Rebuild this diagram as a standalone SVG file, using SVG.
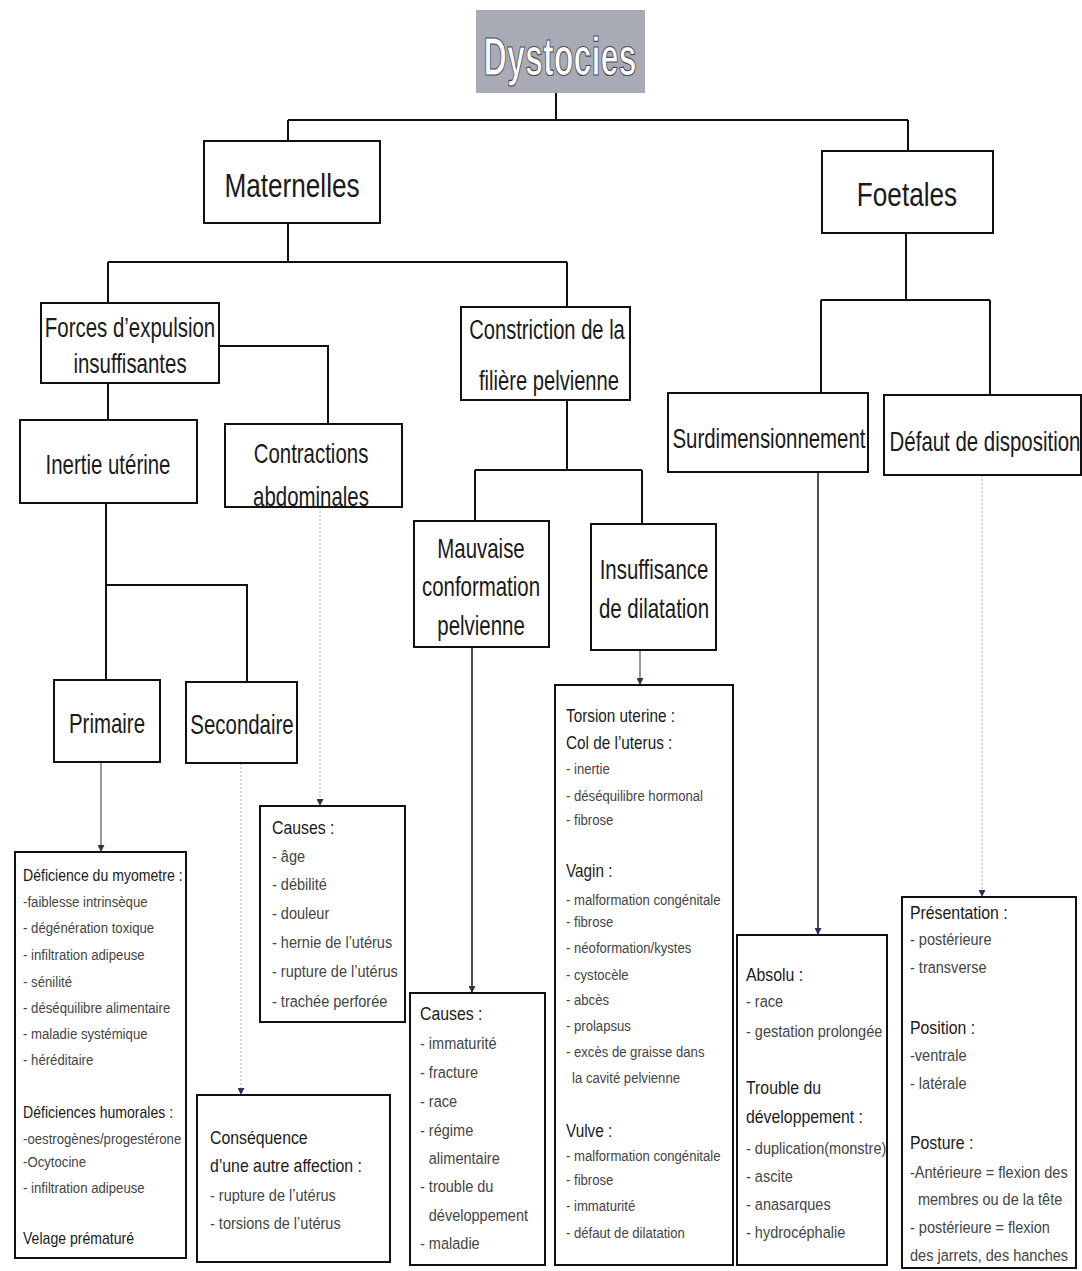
<svg xmlns="http://www.w3.org/2000/svg" width="1082" height="1271" viewBox="0 0 1082 1271">
<defs>
<style>
.bx{fill:#fff;stroke:#111;stroke-width:2}
.ln{fill:none;stroke:#111;stroke-width:2}
.thin{fill:none;stroke:#555;stroke-width:1.2}
.dot{fill:none;stroke:#bbb;stroke-width:1.2;stroke-dasharray:2 2}
.sol{fill:none;stroke:#222;stroke-width:1.6}
.lbl{font-family:"Liberation Sans",Arial,sans-serif;font-size:28px;fill:#1a1a1a;text-anchor:middle}
.big{font-size:34px}
.sm text{font-family:"Liberation Sans",Arial,sans-serif;font-size:15px;fill:#444}
.sm text.hd{font-size:16px;fill:#1a1a1a}
.sm.lg text{font-size:16.5px}
.sm.lg text.hd{font-size:18px}
.sm.md text.hd{font-size:17.5px}
</style>
<marker id="ah" viewBox="0 0 10 10" refX="10" refY="5" markerWidth="9" markerHeight="7" markerUnits="userSpaceOnUse" orient="auto">
<path d="M0,0 L10,5 L0,10 z" fill="#2c3352"/>
</marker>
</defs>
<rect width="1082" height="1271" fill="#fff"/>

<g id="connectors">
<path class="ln" d="M556,93 V120 M288,120 H908 M288,120 V141 M908,120 V151"/>
<path class="ln" d="M288,223 V262 M108,262 H567 M108,262 V303 M567,262 V307"/>
<path class="ln" d="M108,383 V420 M219,346 H328 V424"/>
<path class="ln" d="M106,503 V585 H247 V682 M106,585 V680"/>
<path class="ln" d="M567,400 V470 M475,470 H642 M475,470 V521 M642,470 V524"/>
<path class="ln" d="M906,233 V300 M821,300 H990 M821,300 V393 M990,300 V395"/>
<path class="thin" d="M101,762 V852" marker-end="url(#ah)"/>
<path class="dot" d="M241,763 V1095" marker-end="url(#ah)"/>
<path class="dot" d="M320,507 V806" marker-end="url(#ah)"/>
<path class="sol" d="M472,647 V993" marker-end="url(#ah)"/>
<path class="thin" d="M640,650 V685" marker-end="url(#ah)"/>
<path class="sol" d="M818,472 V935" marker-end="url(#ah)"/>
<path class="dot" d="M982,475 V897" marker-end="url(#ah)"/>
</g>

<g id="dystocies">
<rect x="476" y="10" width="169" height="83" fill="#a8aab5"/>
<text transform="translate(560,75) scale(0.6,1)" font-family="Liberation Sans,Arial,sans-serif" font-size="54" font-weight="bold" fill="#fff" stroke="#4a4a55" stroke-width="1.2" text-anchor="middle">Dystocies</text>
</g>

<g id="maternelles">
<rect class="bx" x="204" y="141" width="176" height="82"/>
<text class="lbl big" transform="translate(292,197) scale(0.77,1)">Maternelles</text>
</g>

<g id="foetales">
<rect class="bx" x="822" y="151" width="171" height="82"/>
<text class="lbl big" transform="translate(907,206) scale(0.77,1)">Foetales</text>
</g>

<g id="forces">
<rect class="bx" x="41" y="303" width="178" height="80"/>
<text class="lbl" transform="translate(130,337) scale(0.73,1)">Forces d’expulsion</text>
<text class="lbl" transform="translate(130,373) scale(0.73,1)">insuffisantes</text>
</g>

<g id="constriction">
<rect class="bx" x="461" y="307" width="169" height="93"/>
<text class="lbl" transform="translate(547,339) scale(0.72,1)">Constriction de la</text>
<text class="lbl" transform="translate(549,390) scale(0.72,1)">filière pelvienne</text>
</g>

<g id="inertie">
<rect class="bx" x="20" y="420" width="177" height="83"/>
<text class="lbl" transform="translate(108,474) scale(0.73,1)">Inertie utérine</text>
</g>

<g id="contractions">
<rect class="bx" x="225" y="424" width="177" height="83"/>
<text class="lbl" transform="translate(311,463) scale(0.73,1)">Contractions</text>
<text class="lbl" transform="translate(311,506) scale(0.73,1)">abdominales</text>
</g>

<g id="primaire">
<rect class="bx" x="54" y="680" width="106" height="82"/>
<text class="lbl" transform="translate(107,733) scale(0.73,1)">Primaire</text>
</g>

<g id="secondaire">
<rect class="bx" x="186" y="682" width="111" height="81"/>
<text class="lbl" transform="translate(242,734) scale(0.73,1)">Secondaire</text>
</g>

<g id="mauvaise">
<rect class="bx" x="414" y="521" width="135" height="126"/>
<text class="lbl" transform="translate(481,558) scale(0.73,1)">Mauvaise</text>
<text class="lbl" transform="translate(481,596) scale(0.73,1)">conformation</text>
<text class="lbl" transform="translate(481,635) scale(0.73,1)">pelvienne</text>
</g>

<g id="insuffisance">
<rect class="bx" x="591" y="524" width="125" height="126"/>
<text class="lbl" transform="translate(654,579) scale(0.73,1)">Insuffisance</text>
<text class="lbl" transform="translate(654,618) scale(0.73,1)">de dilatation</text>
</g>

<g id="surdimensionnement">
<rect class="bx" x="668" y="393" width="200" height="79"/>
<text class="lbl" transform="translate(769,448) scale(0.73,1)">Surdimensionnement</text>
</g>

<g id="defaut">
<rect class="bx" x="884" y="395" width="197" height="80"/>
<text class="lbl" transform="translate(985,451) scale(0.73,1)">Défaut de disposition</text>
</g>

<g id="deficience">
<rect class="bx" x="15" y="852" width="171" height="406"/>
<g class="sm" transform="translate(23,0) scale(0.88,1)">
<text class="hd" y="881">Déficience du myometre :</text>
<text y="907">-faiblesse intrinsèque</text>
<text y="933">- dégénération toxique</text>
<text y="960">- infiltration adipeuse</text>
<text y="987">- sénilité</text>
<text y="1013">- déséquilibre alimentaire</text>
<text y="1039">- maladie systémique</text>
<text y="1065">- héréditaire</text>
<text class="hd" y="1118">Déficiences humorales :</text>
<text y="1144">-oestrogènes/progestérone</text>
<text y="1167">-Ocytocine</text>
<text y="1193">- infiltration adipeuse</text>
<text class="hd" y="1244">Velage prématuré</text>
</g>
</g>

<g id="causes-contractions">
<rect class="bx" x="260" y="806" width="145" height="216"/>
<g class="sm lg" transform="translate(272,0) scale(0.88,1)">
<text class="hd" y="834">Causes :</text>
<text y="862">- âge</text>
<text y="890">- débilité</text>
<text y="919">- douleur</text>
<text y="948">- hernie de l’utérus</text>
<text y="977">- rupture de l’utérus</text>
<text y="1007">- trachée perforée</text>
</g>
</g>

<g id="consequence">
<rect class="bx" x="197" y="1095" width="193" height="167"/>
<g class="sm lg" transform="translate(210,0) scale(0.88,1)">
<text class="hd" y="1144">Conséquence</text>
<text class="hd" y="1172">d’une autre affection :</text>
<text y="1201">- rupture de l’utérus</text>
<text y="1229">- torsions de l’utérus</text>
</g>
</g>

<g id="causes-mauvaise">
<rect class="bx" x="410" y="993" width="135" height="272"/>
<g class="sm lg" transform="translate(420,0) scale(0.88,1)">
<text class="hd" y="1020">Causes :</text>
<text y="1049">- immaturité</text>
<text y="1078">- fracture</text>
<text y="1107">- race</text>
<text y="1136">- régime</text>
<text x="10" y="1164">alimentaire</text>
<text y="1192">- trouble du</text>
<text x="10" y="1221">développement</text>
<text y="1249">- maladie</text>
</g>
</g>

<g id="torsion">
<rect class="bx" x="555" y="685" width="178" height="580"/>
<g class="sm md" transform="translate(566,0) scale(0.875,1)">
<text class="hd" y="722">Torsion uterine :</text>
<text class="hd" y="749">Col de l’uterus :</text>
<text y="774">- inertie</text>
<text y="801">- déséquilibre hormonal</text>
<text y="825">- fibrose</text>
<text class="hd" y="877">Vagin :</text>
<text y="905">- malformation congénitale</text>
<text y="927">- fibrose</text>
<text y="953">- néoformation/kystes</text>
<text y="980">- cystocèle</text>
<text y="1005">- abcès</text>
<text y="1031">- prolapsus</text>
<text y="1057">- excès de graisse dans</text>
<text x="7" y="1083">la cavité pelvienne</text>
<text class="hd" y="1137">Vulve :</text>
<text y="1161">- malformation congénitale</text>
<text y="1185">- fibrose</text>
<text y="1211">- immaturité</text>
<text y="1238">- défaut de dilatation</text>
</g>
</g>

<g id="absolu">
<rect class="bx" x="737" y="935" width="150" height="330"/>
<g class="sm lg" transform="translate(746,0) scale(0.88,1)">
<text class="hd" y="981">Absolu :</text>
<text y="1007">- race</text>
<text y="1037">- gestation prolongée</text>
<text class="hd" y="1094">Trouble du</text>
<text class="hd" y="1123">développement :</text>
<text y="1154">- duplication(monstre)</text>
<text y="1182">- ascite</text>
<text y="1210">- anasarques</text>
<text y="1238">- hydrocéphalie</text>
</g>
</g>

<g id="presentation">
<rect class="bx" x="902" y="897" width="174" height="371"/>
<g class="sm lg" transform="translate(910,0) scale(0.88,1)">
<text class="hd" y="919">Présentation :</text>
<text y="945">- postérieure</text>
<text y="973">- transverse</text>
<text class="hd" y="1034">Position :</text>
<text y="1061">-ventrale</text>
<text y="1089">- latérale</text>
<text class="hd" y="1149">Posture :</text>
<text y="1178">-Antérieure = flexion des</text>
<text x="9" y="1205">membres ou de la tête</text>
<text y="1233">- postérieure = flexion</text>
<text y="1261">des jarrets, des hanches</text>
</g>
</g>
</svg>
